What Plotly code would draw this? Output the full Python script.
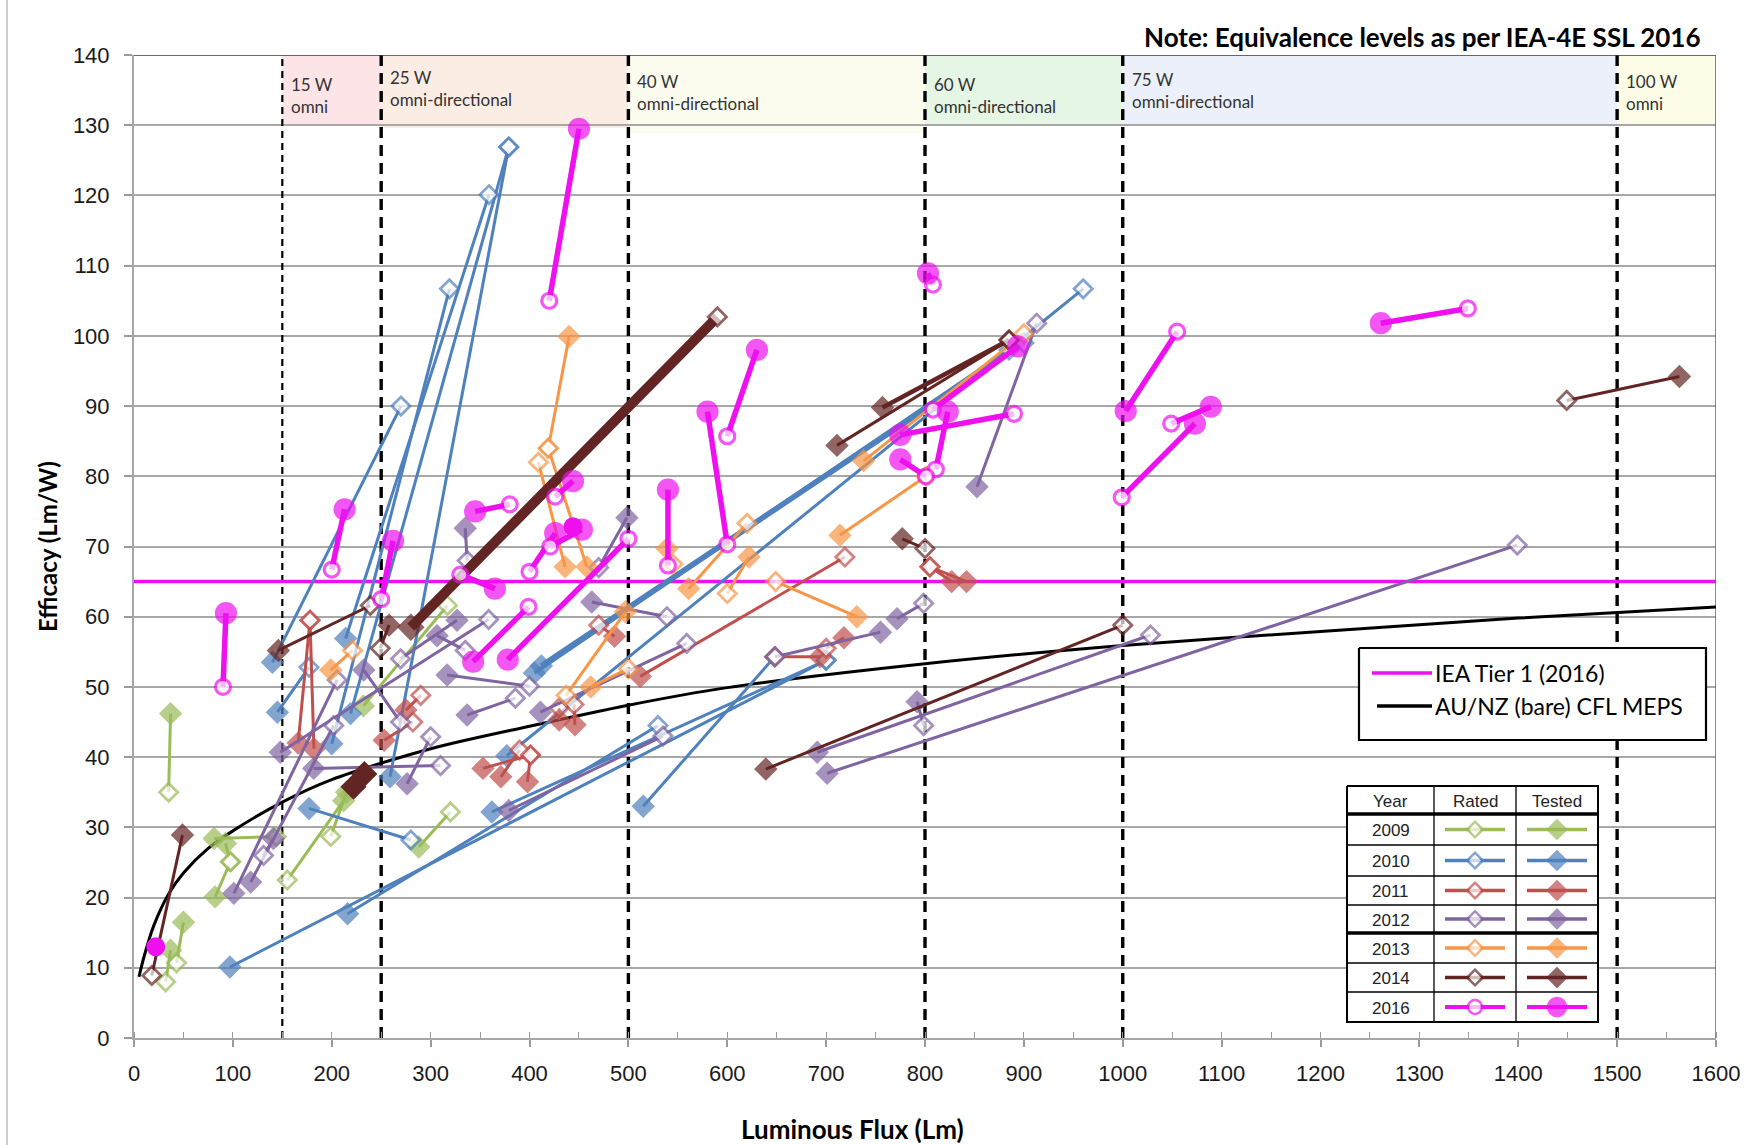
import plotly.graph_objects as go

# ---------------------------------------------------------------- data
flux_range = [0, 1600]
efficacy_range = [0, 140]
x_tick_step = 100
x_minor_step = 50
y_tick_step = 10

equivalence_lm = [150, 250, 500, 800, 1000, 1500]
band_start = [150, 250, 500, 800, 1000, 1500]
band_end = [250, 500, 800, 1000, 1500, 1600]
band_text = ["15 W<br>omni", "25 W<br>omni-directional", "40 W<br>omni-directional",
             "60 W<br>omni-directional", "75 W<br>omni-directional", "100 W<br>omni"]

iea_tier1_level = 65
meps_lm = [5, 10, 20, 35, 50, 75, 100, 150, 200, 300, 400, 500, 600, 800, 1000, 1200, 1400, 1600]
meps_eff = [8.7, 11.5, 16.0, 20.5, 23.5, 27.0, 29.5, 33.6, 36.8, 41.2, 44.4, 47.4, 49.9, 53.3, 55.9, 57.9, 59.8, 61.4]

# 2009
rated_lm_2009 = [35, 32, 43, 97.6, 144, 97.6, 155, 199, 320, 317]
rated_eff_2009 = [35.0, 8.0, 10.7, 25.1, 28.7, 25.1, 22.5, 28.7, 32.2, 61.6]
tested_lm_2009 = [37, 37, 50, 82, 81, 92.5, 212, 215, 288, 232]
tested_eff_2009 = [46.2, 12.5, 16.5, 20.1, 28.4, 27.7, 33.8, 35.0, 27.2, 47.3]

# 2010
rated_lm_2010 = [270, 379, 379, 359, 319, 177, 280, 530, 700, 648, 700, 900, 960, 885]
rated_eff_2010 = [90.0, 126.9, 126.9, 120.1, 106.7, 52.8, 28.2, 44.5, 53.8, 54.3, 53.8, 99.0, 106.7, 98.0]
tested_lm_2010 = [140, 259, 219, 214, 200, 145, 177, 216, 97, 515, 362, 412, 377, 405]
tested_eff_2010 = [53.5, 37.2, 46.2, 56.9, 41.9, 46.4, 32.7, 17.7, 10.1, 33.0, 32.2, 53.0, 40.2, 52.0]

# 2011
rated_lm_2011 = [178, 178, 290, 282, 401, 390, 401, 445, 430, 470, 719, 648, 700, 805, 805]
rated_eff_2011 = [59.5, 59.5, 48.8, 45.0, 40.3, 41.0, 40.3, 47.5, 47.0, 58.8, 68.5, 54.3, 55.5, 67.1, 67.1]
tested_lm_2011 = [182, 166, 275, 253, 353, 371, 398, 446, 430, 486, 512, 694, 718, 827, 842]
tested_eff_2011 = [41.2, 42.0, 46.7, 42.4, 38.4, 37.2, 36.5, 44.6, 45.3, 57.2, 51.5, 54.3, 57.0, 65.0, 65.0]

# 2012
rated_lm_2012 = [205.5, 202, 131, 358.7, 335, 269.6, 400, 385.7, 300, 269.6, 310, 337, 470, 539,
                 559, 535, 648.5, 798.6, 798.6, 913, 1028, 1399]
rated_eff_2012 = [51, 44.5, 26, 59.6, 55.2, 54, 50.1, 48.4, 42.9, 45, 38.8, 68, 67, 60,
                  56.2, 43, 54.3, 61.9, 44.5, 101.8, 57.4, 70.2]
tested_lm_2012 = [101, 118, 141, 148, 306.5, 326.7, 316.7, 336.9, 276.2, 232.4, 181.8, 335, 498.5, 463,
                  411, 379, 755, 771.7, 792, 852.6, 691, 701]
tested_eff_2012 = [20.6, 22.2, 28.4, 40.7, 57.3, 59.5, 51.7, 46, 36.2, 52.4, 38.4, 72.6, 74.1, 62.1,
                   46.4, 32.4, 57.8, 59.7, 47.9, 78.5, 40.7, 37.7]

# 2013
rated_lm_2013 = [221, 409, 419, 419, 437, 500, 620, 600, 649, 900, 801, 545]
rated_eff_2013 = [55.2, 82.0, 84.0, 84.0, 48.8, 52.6, 73.3, 63.3, 65.0, 100.3, 80.0, 67.5]
tested_lm_2013 = [199, 436, 458, 440, 497, 462, 561, 622, 731, 738, 714, 539]
tested_eff_2013 = [52.4, 67.1, 67.1, 99.9, 60.7, 50.0, 64.0, 68.5, 60.0, 82.2, 71.6, 69.7]

# 2014
rated_lm_2014 = [18, 239, 249, 590, 885, 885, 800, 1000, 1449]
rated_eff_2014 = [8.9, 61.6, 55.5, 102.7, 99.4, 99.4, 69.7, 58.8, 90.8]
tested_lm_2014 = [49, 146, 258, 280, 711, 757, 777, 639, 1563]
tested_eff_2014 = [28.9, 55.2, 58.8, 58.5, 84.4, 89.8, 71.1, 38.3, 94.2]
tested_only_lm_2014 = [222, 233]
tested_only_eff_2014 = [35.8, 37.6]

# 2016
rated_lm_2016 = [90, 200, 250, 420, 380, 330, 399, 500, 426, 400, 421, 540, 600, 600, 808, 808,
                 811, 890, 801, 1055, 999, 1049, 1349]
rated_eff_2016 = [50.0, 66.7, 62.5, 105.0, 76.0, 66.0, 61.4, 71.1, 77.1, 66.4, 70.0, 67.3, 70.3,
                  85.7, 107.3, 89.5, 81.0, 88.9, 80.0, 100.6, 77.0, 87.5, 103.9]
tested_lm_2016 = [93, 213, 262, 450, 345, 365, 343, 378, 444, 426, 453, 540, 580, 630, 803, 894,
                  823, 775, 775, 1003, 1073, 1089, 1261]
tested_eff_2016 = [60.5, 75.3, 70.8, 129.5, 75.0, 64.0, 53.6, 53.9, 79.3, 71.9, 72.4, 78.1, 89.2,
                   98.0, 108.9, 98.5, 89.2, 85.9, 82.4, 89.3, 87.5, 89.9, 101.8]
tested_only_lm_2016 = [22, 444]
tested_only_eff_2016 = [13.0, 72.8]

years = ["2009", "2010", "2011", "2012", "2013", "2014", "2016"]

# ---------------------------------------------------------------- style
W, H = 1744, 1145
ML, MR, MT, MB = 134, 28, 55, 107
PL, PR, PT, PB = ML, W - MR, MT, H - MB

COL = {"2009": "#9BBB59", "2010": "#4F81BD", "2011": "#C0504D", "2012": "#8064A2",
       "2013": "#F79646", "2014": "#632523", "2016": "#EE10EE"}
MAG = COL["2016"]
band_colors = ["#FCE4E7", "#FBEDE4", "#FBFBEE", "#E5F6E4", "#EBF0FA", "#FDFDE7"]
band_bottom = [130, 129.6, 128.9, 130, 130, 130]
band_label_y = [134.3, 135.2, 134.6, 134.3, 135.0, 134.6]

TXT = "Lato"
NUM = "Liberation Sans"


def paper_x(px):
    return (px - PL) / (PR - PL)


def paper_y(py):
    return (PB - py) / (PB - PT)


fig = go.Figure()

# reference lines
fig.add_trace(go.Scatter(x=meps_lm, y=meps_eff, mode="lines",
                         line=dict(color="black", width=3, shape="spline", smoothing=0.8),
                         hoverinfo="skip"))
fig.add_trace(go.Scatter(x=flux_range, y=[iea_tier1_level, iea_tier1_level], mode="lines",
                         line=dict(color=MAG, width=3.5), hoverinfo="skip"))


def add_pairs(rx, ry, tx, ty, color, symbol, r_size, t_size, lw, mlw, skip=(), idx=None):
    xs, ys, fills, sizes = [], [], [], []
    for i, (a, b, c, d) in enumerate(zip(rx, ry, tx, ty)):
        if idx is not None and i not in idx:
            continue
        if i in skip:
            continue
        xs += [a, c, None]
        ys += [b, d, None]
        fills += ["white", color, "white"]
        sizes += [r_size, t_size, r_size]
    fig.add_trace(go.Scatter(
        x=xs, y=ys, mode="lines+markers", connectgaps=False,
        line=dict(color=color, width=lw),
        marker=dict(symbol=symbol, size=sizes, color=fills, line=dict(color=color, width=mlw)),
        hoverinfo="skip"))


data = {
    "2009": (rated_lm_2009, rated_eff_2009, tested_lm_2009, tested_eff_2009),
    "2010": (rated_lm_2010, rated_eff_2010, tested_lm_2010, tested_eff_2010),
    "2011": (rated_lm_2011, rated_eff_2011, tested_lm_2011, tested_eff_2011),
    "2012": (rated_lm_2012, rated_eff_2012, tested_lm_2012, tested_eff_2012),
    "2013": (rated_lm_2013, rated_eff_2013, tested_lm_2013, tested_eff_2013),
    "2014": (rated_lm_2014, rated_eff_2014, tested_lm_2014, tested_eff_2014),
}
thick = {"2010": {11: 5.5, 13: 4}, "2014": {3: 10, 5: 4.5}}

for y in ["2009", "2010", "2011", "2012", "2013", "2014"]:
    rx, ry, tx, ty = data[y]
    tk = thick.get(y, {})
    add_pairs(rx, ry, tx, ty, COL[y], "diamond", 14, 15, 3, 2.8, skip=set(tk))
    for i, w in tk.items():
        add_pairs(rx, ry, tx, ty, COL[y], "diamond", 14, 18 if w > 6 else 15, w, 2.8, idx={i})

fig.add_trace(go.Scatter(x=tested_only_lm_2014, y=tested_only_eff_2014, mode="lines+markers",
                         line=dict(color=COL["2014"], width=6),
                         marker=dict(symbol="diamond", size=20, color=COL["2014"]), hoverinfo="skip"))

add_pairs(rated_lm_2016, rated_eff_2016, tested_lm_2016, tested_eff_2016, MAG, "circle", 15, 19, 5.5, 3.2)
fig.add_trace(go.Scatter(x=tested_only_lm_2016, y=tested_only_eff_2016, mode="markers",
                         marker=dict(symbol="circle", size=19, color=MAG), hoverinfo="skip"))

# ---------------------------------------------------------------- legend boxes (pixel axes)
def box(x0, y0, x1, y1, lw):
    fig.add_trace(go.Scatter(x=[x0, x1, x1, x0, x0], y=[y0, y0, y1, y1, y0], mode="lines",
                             fill="toself", fillcolor="white", line=dict(color="black", width=lw),
                             xaxis="x2", yaxis="y2", hoverinfo="skip"))


def seg(x0, y0, x1, y1, color, lw):
    fig.add_trace(go.Scatter(x=[x0, x1], y=[y0, y1], mode="lines", line=dict(color=color, width=lw),
                             xaxis="x2", yaxis="y2", hoverinfo="skip"))


annotations = []


def label(px_x, px_y, text, font, xanchor="center", yanchor="middle", angle=0):
    annotations.append(dict(x=paper_x(px_x), y=paper_y(px_y), xref="paper", yref="paper", text=text,
                            showarrow=False, xanchor=xanchor, yanchor=yanchor, textangle=angle,
                            font=font))


# IEA / MEPS legend
box(1359, 648, 1706, 740, 2.2)
seg(1372, 673, 1432, 673, MAG, 3.5)
seg(1377, 706, 1432, 706, "black", 3.5)
label(1433, 673, "IEA Tier 1 (2016)", dict(family=TXT, size=23, color="black"), xanchor="left")
label(1433, 706, "AU/NZ (bare) CFL MEPS", dict(family=TXT, size=23, color="black"), xanchor="left")

# year table
tbl_x = [1347, 1434, 1516, 1598]
tbl_y = [786, 814, 845, 876, 905, 933, 963, 992, 1022]
box(tbl_x[0], tbl_y[0], tbl_x[-1], tbl_y[-1], 2)
for j, yy in enumerate(tbl_y[1:-1], start=1):
    seg(tbl_x[0], yy, tbl_x[-1], yy, "black", 3.5 if j in (1, 5) else 1.3)
for xx in tbl_x[1:-1]:
    seg(xx, tbl_y[0], xx, tbl_y[-1], "black", 1.3)

tfont = dict(family=NUM, size=17, color="#222")
heads = ["Year", "Rated", "Tested"]
for k in range(3):
    label((tbl_x[k] + tbl_x[k + 1]) / 2, (tbl_y[0] + tbl_y[1]) / 2 + 1, heads[k], tfont)
for i, y in enumerate(years):
    cy = (tbl_y[i + 1] + tbl_y[i + 2]) / 2
    label((tbl_x[0] + tbl_x[1]) / 2, cy + 1, y, tfont)
    c = COL[y]
    sym = "circle" if y == "2016" else "diamond"
    rs, ts = (14, 18) if y == "2016" else (12, 14)
    lw = 4 if y == "2016" else 3.5
    rcx = (tbl_x[1] + tbl_x[2]) / 2
    tcx = (tbl_x[2] + tbl_x[3]) / 2
    seg(rcx - 30, cy, rcx + 30, cy, c, lw)
    seg(tcx - 30, cy, tcx + 30, cy, c, lw)
    fig.add_trace(go.Scatter(x=[rcx, tcx], y=[cy, cy], mode="markers",
                             marker=dict(symbol=sym, size=[rs, ts], color=["white", c],
                                         line=dict(color=c, width=2.5)),
                             xaxis="x2", yaxis="y2", hoverinfo="skip"))

# ---------------------------------------------------------------- shapes
shapes = []
for x0, x1, c, yb in zip(band_start, band_end, band_colors, band_bottom):
    shapes.append(dict(type="rect", xref="x", yref="y", x0=x0, x1=x1, y0=yb, y1=efficacy_range[1],
                       fillcolor=c, line=dict(width=0), layer="below"))
for v in equivalence_lm:
    first = v == equivalence_lm[0]
    shapes.append(dict(type="line", xref="x", yref="y", x0=v, x1=v, y0=efficacy_range[0],
                       y1=efficacy_range[1], layer="between",
                       line=dict(color="black", width=2.2 if first else 3.4,
                                 dash="7px,5px" if first else "11px,7px")))
shapes.append(dict(type="line", xref="x", yref="y", x0=flux_range[0], x1=flux_range[1],
                   y0=efficacy_range[1], y1=efficacy_range[1], layer="between",
                   line=dict(color="#3A3A3A", width=1.6)))
shapes.append(dict(type="line", xref="x", yref="y", x0=flux_range[1], x1=flux_range[1],
                   y0=efficacy_range[0], y1=efficacy_range[1], layer="between",
                   line=dict(color="#6A6A6A", width=1.6)))
shapes.append(dict(type="line", xref="paper", yref="paper", x0=paper_x(7), x1=paper_x(7),
                   y0=paper_y(0), y1=paper_y(H), line=dict(color="#BDBDBD", width=1.5)))

for x0, t, yy in zip(band_start, band_text, band_label_y):
    annotations.append(dict(x=x0, y=yy, xref="x", yref="y", text=t, showarrow=False,
                            xanchor="left", yanchor="middle", align="left", xshift=7,
                            font=dict(family=TXT, size=17, color="#333")))

label(1703, 37, "<b>Note: Equivalence levels as per IEA-4E SSL 2016</b>",
      dict(family=TXT, size=26, color="black"), xanchor="right")
label(47, 547, "<b>Efficacy (Lm/W)</b>", dict(family=TXT, size=24, color="black"), angle=-90)
label(852, 1129, "<b>Luminous Flux (Lm)</b>", dict(family=TXT, size=26, color="black"))

fig.update_layout(
    width=W, height=H, margin=dict(l=ML, r=MR, t=MT, b=MB, pad=0, autoexpand=False),
    paper_bgcolor="white", plot_bgcolor="white", showlegend=False,
    shapes=shapes, annotations=annotations,
    xaxis=dict(range=flux_range, tick0=0, dtick=x_tick_step, ticks="outside", ticklen=7, tickwidth=1.5,
               tickcolor="#9A9A9A", showline=True, linecolor="#A6A6A6", linewidth=2, showgrid=False,
               zeroline=False, ticklabelstandoff=8, automargin=False,
               tickfont=dict(family=NUM, size=22, color="#1A1A1A"),
               minor=dict(tick0=0, dtick=x_minor_step, ticks="inside", ticklen=6, tickwidth=1.2,
                          tickcolor="#9A9A9A", showgrid=False)),
    yaxis=dict(range=efficacy_range, tick0=0, dtick=y_tick_step, ticks="outside", ticklen=8, tickwidth=1.5,
               tickcolor="#9A9A9A", showline=True, linecolor="#A6A6A6", linewidth=2, showgrid=True,
               gridcolor="#A8A8A8", gridwidth=1.5, zeroline=False, ticklabelstandoff=10, automargin=False,
               tickfont=dict(family=NUM, size=22, color="#1A1A1A")),
    xaxis2=dict(overlaying="x", anchor="y2", range=[PL, PR], visible=False, fixedrange=True,
                automargin=False),
    yaxis2=dict(overlaying="y", anchor="x2", range=[PB, PT], visible=False, fixedrange=True,
                automargin=False),
)

fig.write_html("out.html", config={"displayModeBar": False},
               post_script="document.body.style.margin='0';document.body.style.overflow='hidden';")
